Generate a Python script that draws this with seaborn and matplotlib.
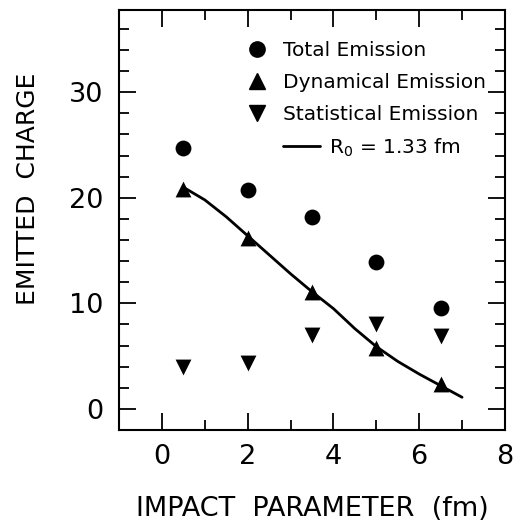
import numpy as np
import pandas as pd
import seaborn as sns
import matplotlib.pyplot as plt
from matplotlib.lines import Line2D
from matplotlib.ticker import MultipleLocator

# impact parameter (fm)
b_vals = [0.5, 2.0, 3.5, 5.0, 6.5]
total_q = [24.7, 20.7, 18.2, 13.9, 9.6]
dyn_q = [20.8, 16.2, 11.1, 5.8, 2.4]
stat_q = [4.0, 4.3, 7.0, 8.0, 6.9]

# R0 = 1.33 fm curve
curve_b = [0.5, 1.0, 1.5, 2.0, 2.5, 3.0, 3.5, 4.0, 4.5, 5.0, 5.5, 6.0, 6.5, 7.0]
curve_q = [21.0, 19.8, 18.2, 16.4, 14.6, 12.8, 11.1, 9.5, 7.6, 5.9, 4.5, 3.3, 2.2, 1.1]

sns.set_style("ticks")
plt.rcParams['font.family'] = ['DejaVu Sans']
plt.rcParams.update({'text.color': 'black', 'axes.labelcolor': 'black',
                     'xtick.color': 'black', 'ytick.color': 'black',
                     'axes.edgecolor': 'black'})

df = pd.DataFrame({
    'b': b_vals * 3,
    'q': total_q + dyn_q + stat_q,
    'kind': ['Total Emission'] * 5 + ['Dynamical Emission'] * 5 + ['Statistical Emission'] * 5,
})
curve = pd.DataFrame({'b': curve_b, 'q': curve_q})

fig = plt.figure(figsize=(5.2, 5.25), dpi=100)
ax = fig.add_axes([0.229, 0.181, 0.742, 0.8])

sns.lineplot(data=curve, x='b', y='q', color='black', lw=2.0, ax=ax, legend=False, zorder=2)
marks = {'Total Emission': 'o', 'Dynamical Emission': '^', 'Statistical Emission': 'v'}
for kind, m in marks.items():
    sns.scatterplot(data=df[df.kind == kind], x='b', y='q', marker=m, color='black',
                    s=130, edgecolor='black', linewidth=0, ax=ax, legend=False, zorder=3)

ax.set_xlim(-1, 8)
ax.set_ylim(-2, 37.8)
ax.xaxis.set_major_locator(MultipleLocator(2))
ax.xaxis.set_minor_locator(MultipleLocator(1))
ax.yaxis.set_major_locator(MultipleLocator(10))
ax.yaxis.set_minor_locator(MultipleLocator(2))
ax.tick_params(which='both', direction='in', top=True, right=True, width=1.3, labelsize=19.5)
ax.tick_params(axis='y', which='major', length=12, pad=11.5)
ax.tick_params(axis='x', which='major', length=12, pad=10)
ax.tick_params(which='minor', length=7)
for sp in ax.spines.values():
    sp.set_linewidth(1.5)

ax.set_xlabel('IMPACT  PARAMETER  (fm)', fontsize=19.5)
ax.set_ylabel('EMITTED  CHARGE', fontsize=18)
ax.xaxis.set_label_coords(0.5, -0.157)
ax.yaxis.set_label_coords(-0.205, 0.574)

handles = [Line2D([], [], ls='none', marker=marks[k], color='black', markersize=11) for k in marks]
leg1 = ax.legend(handles, list(marks.keys()), loc='upper left', bbox_to_anchor=(0.31, 0.945),
                 frameon=False, fontsize=14.5, handlelength=1.0, handletextpad=0.8,
                 labelspacing=0.65, borderaxespad=0)
ax.add_artist(leg1)
line_h = [Line2D([], [], color='black', lw=2)]
ax.legend(line_h, [r'$\mathregular{R_0}$ = 1.33 fm'], loc='upper left', bbox_to_anchor=(0.405, 0.718),
          frameon=False, fontsize=14.5, handlelength=1.8, handletextpad=0.45, borderaxespad=0)

fig.savefig('out.png', dpi=100)
